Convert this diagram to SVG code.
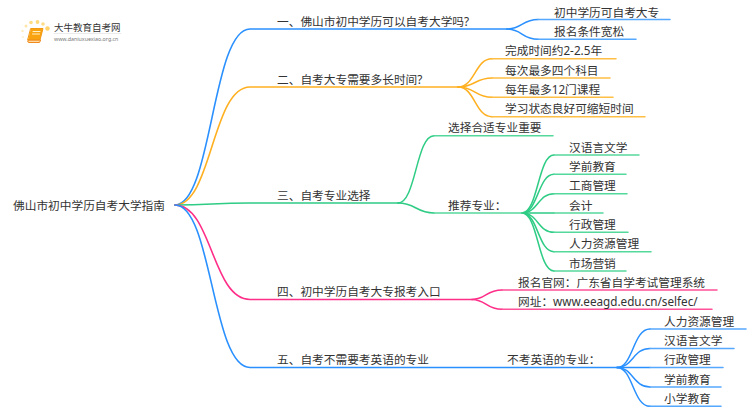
<svg xmlns="http://www.w3.org/2000/svg" width="750" height="410" viewBox="0 0 750 410">
<style>
text{font-family:"Noto Sans","Noto Sans CJK SC",sans-serif;font-size:11.7px;fill:#333}
path{fill:none;stroke-linecap:round}
.b{stroke:#2a90ff}.o{stroke:#ffb020}.g{stroke:#2ecc85}.p{stroke:#ff2e88}
.m{stroke-width:1.6}.l{stroke-width:1.5}
.bl{stroke:#55a8ff}.ol{stroke:#ffbf45}.gl{stroke:#55d89c}.pl{stroke:#ff5299}
</style>
<rect width="750" height="410" fill="#fff"/>
<g id="logo">
<circle cx="47.500" cy="28.500" r="2.200" fill="#ffd36a"/><circle cx="43" cy="24" r="1.800" fill="#ffdc85"/><circle cx="37.500" cy="22" r="1.900" fill="#ffd97c"/><circle cx="31" cy="22.500" r="1.800" fill="#ffdc85"/><circle cx="26" cy="26" r="1.500" fill="#ffe6a8"/><circle cx="22.500" cy="31" r="1.200" fill="#ffecbd"/><circle cx="23" cy="37" r="1" fill="#fff0cc"/>
<path d="M31 28.500H43L40 40H28Z" style="fill:#f9a311;stroke:#f39a15;stroke-width:1"/>
<path d="M28 40.500Q27 42.500 29 42.500H39.500L40.500 40.500Z" style="fill:#ffd9a0;stroke:#f08a1c;stroke-width:1"/>
<path d="M33 31.500H40M32.500 34H39.500" style="stroke:#fff1c8;stroke-width:1"/>
<text x="54" y="31" style="font-size:9.500px">大牛教育自考网</text>
<path d="M54 33.500H121" style="stroke:#ddd;stroke-width:.6"/>
<text x="54" y="41" style="font-size:5.300px;fill:#777">www.daniuxuexiao.org.cn</text>
</g>
<g id="connectors">
<path class="b m" d="M175 205C212 205 212 29 250 29H507"/>
<path class="o m" d="M175 205C212 205 212 87 250 87H460"/>
<path class="g m" d="M175 205C212 205 212 203 250 203H398"/>
<path class="p m" d="M175 205C212 205 212 299.500 250 299.500H472"/>
<path class="b m" d="M175 205C212 205 212 367.500 250 367.500H617"/>
<path class="b l" d="M507 29C522 29 522 19.500 538 19.500"/><path class="b l" d="M507 29C522 29 522 39.300 538 39.300"/>
<path class="o l" d="M458 87C475 87 475 58.700 492 58.700"/><path class="o l" d="M458 87C475 87 475 78 492 78"/><path class="o l" d="M458 87C475 87 475 97.300 492 97.300"/><path class="o l" d="M458 87C475 87 475 116.700 492 116.700"/>
<path class="g l" d="M398 203C416 203 416 135.700 434 135.700"/><path class="g l" d="M398 203C416 203 416 213 434 213"/>
<path class="g l" d="M522 213C538 213 538 155 554 155"/><path class="g l" d="M522 213C538 213 538 174.300 554 174.300"/><path class="g l" d="M522 213C538 213 538 193.700 554 193.700"/><path class="g l" d="M522 213H554"/><path class="g l" d="M522 213C538 213 538 232.300 554 232.300"/><path class="g l" d="M522 213C538 213 538 251.700 554 251.700"/><path class="g l" d="M522 213C538 213 538 271 554 271"/>
<path class="p l" d="M472 299.500C486 299.500 486 290 502 290"/><path class="p l" d="M472 299.500C486 299.500 486 309.300 502 309.300"/>
<path class="b l" d="M617 367.500C633 367.500 633 329 650 329"/><path class="b l" d="M617 367.500C633 367.500 633 348.400 650 348.400"/><path class="b l" d="M617 367.500H650"/><path class="b l" d="M617 367.500C633 367.500 633 387 650 387"/><path class="b l" d="M617 367.500C633 367.500 633 406.300 650 406.300"/>
</g>
<g id="root"><text x="13" y="209.500">佛山市初中学历自考大学指南</text></g>
<g id="n1"><text x="277" y="26">一、佛山市初中学历可以自考大学吗?</text></g>
<g id="n1a"><path class="bl l" d="M538 19.500H670"/><text x="554" y="16.500">初中学历可自考大专</text></g>
<g id="n1b"><path class="bl l" d="M538 39.300H636"/><text x="554" y="36">报名条件宽松</text></g>
<g id="n2"><text x="277" y="84">二、自考大专需要多长时间?</text></g>
<g id="n2a"><path class="ol l" d="M492 58.700H616"/><text x="505" y="55">完成时间约2-2.5年</text></g>
<g id="n2b"><path class="ol l" d="M492 78H610"/><text x="505" y="74.500">每次最多四个科目</text></g>
<g id="n2c"><path class="ol l" d="M492 97.300H613"/><text x="505" y="94">每年最多12门课程</text></g>
<g id="n2d"><path class="ol l" d="M492 116.700H645"/><text x="505" y="113">学习状态良好可缩短时间</text></g>
<g id="n3"><text x="277" y="200">三、自考专业选择</text></g>
<g id="n3a"><path class="gl l" d="M434 135.700H553"/><text x="448" y="132">选择合适专业重要</text></g>
<g id="n3b"><path class="gl l" d="M434 213H522"/><text x="448" y="209.500">推荐专业：</text></g>
<g id="n3b1"><path class="gl l" d="M554 155H639"/><text x="569" y="151.500">汉语言文学</text></g>
<g id="n3b2"><path class="gl l" d="M554 174.300H626"/><text x="569" y="171">学前教育</text></g>
<g id="n3b3"><path class="gl l" d="M554 193.700H627"/><text x="569" y="190">工商管理</text></g>
<g id="n3b4"><path class="gl l" d="M554 213H603"/><text x="569" y="209.500">会计</text></g>
<g id="n3b5"><path class="gl l" d="M554 232.300H628"/><text x="569" y="229">行政管理</text></g>
<g id="n3b6"><path class="gl l" d="M554 251.700H651"/><text x="569" y="248">人力资源管理</text></g>
<g id="n3b7"><path class="gl l" d="M554 271H626"/><text x="569" y="267.500">市场营销</text></g>
<g id="n4"><text x="277" y="296">四、初中学历自考大专报考入口</text></g>
<g id="n4a"><path class="pl l" d="M502 290H717"/><text x="518" y="286.500">报名官网：广东省自学考试管理系统</text></g>
<g id="n4b"><path class="pl l" d="M502 309.300H712"/><text x="518" y="306">网址：www.eeagd.edu.cn/selfec/</text></g>
<g id="n5"><text x="277" y="364">五、自考不需要考英语的专业</text></g>
<g id="n5a"><text x="507" y="364">不考英语的专业：</text></g>
<g id="n5a1"><path class="bl l" d="M650 329H746"/><text x="664" y="325.500">人力资源管理</text></g>
<g id="n5a2"><path class="bl l" d="M650 348.400H734"/><text x="664" y="345">汉语言文学</text></g>
<g id="n5a3"><path class="bl l" d="M650 367.500H723"/><text x="664" y="364">行政管理</text></g>
<g id="n5a4"><path class="bl l" d="M650 387H721"/><text x="664" y="383.500">学前教育</text></g>
<g id="n5a5"><path class="bl l" d="M650 406.300H721"/><text x="664" y="402.500">小学教育</text></g>
</svg>
